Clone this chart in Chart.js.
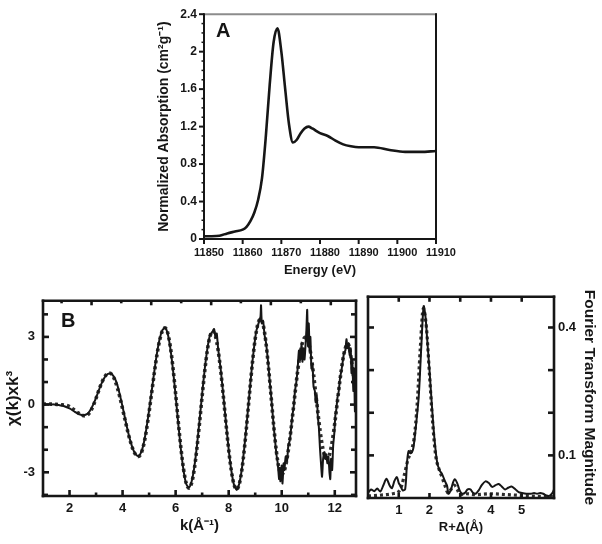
<!DOCTYPE html>
<html>
<head>
<meta charset="utf-8">
<script src="https://cdn.jsdelivr.net/npm/chart.js@4.4.1/dist/chart.umd.min.js"></script>
<style>
  html, body { margin: 0; padding: 0; background: #fff; }
  body { width: 602px; height: 544px; position: relative; overflow: hidden; }
  canvas { position: absolute; }
  .tag { position: absolute; font: bold 20px "Liberation Sans", Arial, sans-serif; line-height: 20px; color: #151515; }
</style>
</head>
<body>
<canvas id="chartA" width="310" height="290" style="left:150px;top:0px"></canvas>
<canvas id="chartB" width="362" height="259" style="left:0px;top:285px"></canvas>
<canvas id="chartFT" width="242" height="259" style="left:360px;top:285px"></canvas>
<div class="tag" style="left:216px;top:20px">A</div>
<div class="tag" style="left:61px;top:310px">B</div>

<script>
/* ── Panel A: XANES ── */
const aEnergy = [11850, 11852, 11854, 11856, 11858, 11860, 11861, 11862, 11863, 11864,
                 11865, 11866, 11867, 11868, 11869, 11870, 11871, 11872, 11873, 11874,
                 11875, 11876, 11877, 11878, 11880, 11882, 11884, 11886, 11888, 11890,
                 11894, 11898, 11902, 11906, 11910];
const aAbs    = [0.03, 0.03, 0.035, 0.06, 0.08, 0.10, 0.13, 0.19, 0.28, 0.42,
                 0.65, 1.1, 1.65, 2.1, 2.25, 2.0, 1.6, 1.22, 1.03, 1.06,
                 1.13, 1.18, 1.20, 1.18, 1.13, 1.10, 1.05, 1.01, 0.99, 0.98,
                 0.98, 0.95, 0.93, 0.93, 0.94];
const aXTicks      = [11850, 11860, 11870, 11880, 11890, 11900, 11910];
const aYTicks      = [0, 0.4, 0.8, 1.2, 1.6, 2, 2.4];
const aYMinorTicks = [0.1, 0.2, 0.3, 0.5, 0.6, 0.7, 0.9, 1.0, 1.1, 1.3, 1.4, 1.5, 1.7, 1.8, 1.9, 2.1, 2.2, 2.3];

/* ── Panel B: EXAFS k-space, data (solid) and fit (dotted) ── */
const bKFit = [1.0, 1.1, 1.2, 1.3, 1.4, 1.5, 1.6, 1.7, 1.8, 1.9,
               2.0, 2.1, 2.2, 2.3, 2.4, 2.5, 2.6, 2.7, 2.8, 2.9,
               3.0, 3.1, 3.2, 3.3, 3.4, 3.5, 3.6, 3.7, 3.8, 3.9,
               4.0, 4.1, 4.2, 4.3, 4.4, 4.5, 4.6, 4.7, 4.8, 4.9,
               5.0, 5.1, 5.2, 5.3, 5.4, 5.5, 5.6, 5.7, 5.8, 5.9,
               6.0, 6.1, 6.2, 6.3, 6.4, 6.5, 6.6, 6.7, 6.8, 6.9,
               7.0, 7.1, 7.2, 7.3, 7.4, 7.5, 7.6, 7.7, 7.8, 7.9,
               8.0, 8.1, 8.2, 8.3, 8.4, 8.5, 8.6, 8.7, 8.8, 8.9,
               9.0, 9.1, 9.2, 9.3, 9.4, 9.5, 9.6, 9.7, 9.8, 9.9,
               10.0, 10.1, 10.2, 10.3, 10.4, 10.5, 10.6, 10.7, 10.8, 10.9,
               11.0, 11.1, 11.2, 11.3, 11.4, 11.5, 11.6, 11.7, 11.8, 11.9,
               12.0, 12.1, 12.2, 12.3, 12.4, 12.5, 12.6, 12.7, 12.8];
const bChiFit = [0.03, 0.03, 0.03, 0.02, 0.02, 0.01, 0, -0.01, -0.02, -0.04,
                 -0.09, -0.17, -0.26, -0.35, -0.43, -0.48, -0.5, -0.44, -0.28, -0.03,
                 0.28, 0.62, 0.93, 1.18, 1.34, 1.4, 1.33, 1.11, 0.76, 0.32,
                 -0.19, -0.71, -1.22, -1.66, -2.01, -2.23, -2.3, -2.16, -1.76, -1.13,
                 -0.33, 0.55, 1.43, 2.23, 2.86, 3.26, 3.4, 3.19, 2.57, 1.63,
                 0.47, -0.77, -1.93, -2.87, -3.49, -3.7, -3.49, -2.89, -1.96, -0.83,
                 0.38, 1.51, 2.44, 3.04, 3.25, 3.04, 2.43, 1.5, 0.36, -0.86,
                 -2.0, -2.93, -3.54, -3.75, -3.52, -2.87, -1.86, -0.63, 0.68, 1.91,
                 2.92, 3.57, 3.8, 3.54, 2.79, 1.67, 0.35, -0.97, -2.09, -2.84,
                 -3.1, -2.92, -2.39, -1.58, -0.58, 0.48, 1.48, 2.29, 2.82, 3.0,
                 2.79, 2.21, 1.33, 0.3, -0.73, -1.61, -2.19, -2.4, -2.21, -1.66,
                 -0.82, 0.15, 1.12, 1.96, 2.51, 2.7, 2.2, 1.3, 0.5];

const bKData = [1.0, 1.1, 1.2, 1.3, 1.4, 1.5, 1.6, 1.7, 1.8, 1.9,
                2.0, 2.1, 2.2, 2.3, 2.4, 2.5, 2.6, 2.7, 2.8, 2.9,
                3.0, 3.1, 3.2, 3.3, 3.4, 3.5, 3.6, 3.7, 3.8, 3.9,
                4.0, 4.1, 4.2, 4.3, 4.4, 4.5, 4.6, 4.7, 4.8, 4.9,
                5.0, 5.1, 5.2, 5.3, 5.4, 5.5, 5.6, 5.7, 5.8, 5.9,
                6.0, 6.1, 6.2, 6.3, 6.4, 6.5, 6.6, 6.7, 6.8, 6.9,
                7.0, 7.1, 7.2, 7.3, 7.4, 7.45, 7.5, 7.55, 7.6, 7.7, 7.8, 7.9,
                8.0, 8.1, 8.2, 8.3, 8.4, 8.5, 8.6, 8.7, 8.8, 8.9,
                9.0, 9.05, 9.1, 9.15, 9.2, 9.22, 9.25, 9.3, 9.35, 9.4,
                9.45, 9.5, 9.55, 9.6, 9.65, 9.7, 9.75, 9.8, 9.85, 9.9,
                9.92, 9.95, 10.0, 10.03, 10.07, 10.1, 10.15, 10.2, 10.25, 10.3,
                10.35, 10.4, 10.45, 10.5, 10.55, 10.6, 10.65, 10.7, 10.75, 10.78,
                10.82, 10.86, 10.9, 10.93, 10.96, 10.99, 11.02, 11.05, 11.08, 11.12,
                11.16, 11.2, 11.25, 11.28, 11.32, 11.36, 11.4, 11.44, 11.48, 11.52,
                11.56, 11.6, 11.64, 11.68, 11.72, 11.76, 11.8, 11.83, 11.86, 11.9,
                11.94, 11.98, 12.02, 12.06, 12.1, 12.15, 12.2, 12.25, 12.3, 12.35,
                12.4, 12.44, 12.48, 12.52, 12.56, 12.6, 12.63, 12.66, 12.7, 12.73,
                12.76, 12.8];
const bChiData = [0.02, 0.02, 0.02, 0.01, 0.01, 0, -0.02, -0.04, -0.07, -0.12,
                  -0.17, -0.24, -0.32, -0.38, -0.44, -0.47, -0.45, -0.38, -0.22, 0.02,
                  0.3, 0.62, 0.92, 1.16, 1.32, 1.38, 1.34, 1.18, 0.88, 0.42,
                  -0.1, -0.65, -1.18, -1.64, -2.0, -2.22, -2.28, -2.12, -1.7, -1.05,
                  -0.25, 0.62, 1.5, 2.3, 2.92, 3.3, 3.4, 3.15, 2.5, 1.55,
                  0.4, -0.85, -2.0, -2.93, -3.52, -3.68, -3.42, -2.8, -1.86, -0.72,
                  0.48, 1.6, 2.5, 3.1, 3.25, 3.35, 3.0, 3.15, 2.5, 1.55, 0.4, -0.82,
                  -1.98, -2.92, -3.55, -3.78, -3.5, -2.82, -1.8, -0.58, 0.72, 1.95,
                  2.95, 3.3, 3.5, 3.7, 3.9, 4.4, 3.6, 3.7, 3.1, 2.8,
                  2.3, 1.7, 1.0, 0.4, -0.3, -1.0, -1.6, -2.2, -2.6, -3.3,
                  -2.8, -3.4, -2.7, -3.5, -2.6, -2.9, -2.3, -2.5, -1.8, -1.6,
                  -1.1, -0.5, -0.1, 0.6, 1.0, 1.6, 2.4, 2.0, 2.7, 1.9,
                  2.5, 2.0, 2.7, 3.3, 4.2, 2.6, 3.6, 2.4, 3.0, 1.6,
                  1.8, 0.8, 0.6, 0.1, 0.4, -0.5, -1.0, -1.9, -2.6, -3.2,
                  -2.4, -2.1, -2.4, -2.2, -2.6, -2.3, -3.0, -3.3, -2.4, -2.9,
                  -1.8, -1.3, -0.5, -0.2, 0.3, 0.6, 1.2, 1.5, 1.9, 2.3,
                  2.4, 2.9, 2.5, 2.7, 2.2, 2.5, 1.4, 2.0, 0.6, 1.6,
                  -0.3, 0.3];
const bXTicks      = [2, 4, 6, 8, 10, 12];
const bXMinorTicks = [3, 5, 7, 9, 11];
const bTopTicks      = [2.83, 5.08, 7.34, 9.59, 11.85];
const bTopMinorTicks = [1.7, 3.95, 6.21, 8.46, 10.72];
const bYTicks      = [-3, 0, 3];
const bYMinorTicks = [-4, -2, -1, 1, 2, 4];

/* ── Panel C: Fourier transform magnitude ── */
const ftR   = [0, 0.1, 0.2, 0.3, 0.4, 0.5, 0.6, 0.7, 0.78, 0.86,
               0.94, 1.0, 1.05, 1.13, 1.21, 1.27, 1.32, 1.38, 1.43, 1.48,
               1.56, 1.65, 1.73, 1.81, 1.87, 1.92, 2.0, 2.08, 2.16, 2.25,
               2.33, 2.41, 2.5, 2.57, 2.62, 2.7, 2.76, 2.82, 2.9, 2.98,
               3.06, 3.15, 3.24, 3.33, 3.42, 3.5, 3.6, 3.7, 3.82, 3.93,
               4.04, 4.15, 4.25, 4.35, 4.46, 4.56, 4.67, 4.8, 4.9, 5.0,
               5.15, 5.3, 5.4, 5.5, 5.6, 5.7, 5.8, 5.9, 6.0, 6.05];
const ftMag = [0.012, 0.02, 0.016, 0.022, 0.015, 0.03, 0.045, 0.03, 0.023, 0.04,
               0.049, 0.035, 0.029, 0.018, 0.021, 0.084, 0.11, 0.105, 0.107, 0.119,
               0.17, 0.238, 0.35, 0.45, 0.425, 0.377, 0.30, 0.215, 0.14, 0.083,
               0.065, 0.056, 0.04, 0.029, 0.01, 0.02, 0.035, 0.044, 0.035, 0.018,
               0.01, 0.012, 0.02, 0.02, 0.012, 0.01, 0.018, 0.03, 0.039, 0.035,
               0.026, 0.03, 0.033, 0.027, 0.02, 0.024, 0.027, 0.02, 0.014, 0.012,
               0.01, 0.01, 0.012, 0.01, 0.012, 0.01, 0.006, 0.005, 0.012, 0.02];
const ftFitR   = [0, 0.3, 0.6, 0.8, 1.0, 1.1, 1.2, 1.3, 1.4, 1.5,
                  1.6, 1.7, 1.8, 1.9, 2.0, 2.1, 2.2, 2.3, 2.4, 2.5,
                  2.6, 2.7, 2.8, 2.9, 3.0, 3.2, 3.5, 4.0, 4.5, 5.0,
                  5.5, 6.05];
const ftFitMag = [0.005, 0.006, 0.008, 0.01, 0.015, 0.03, 0.06, 0.09, 0.11, 0.14,
                  0.22, 0.35, 0.445, 0.40, 0.29, 0.18, 0.10, 0.07, 0.05, 0.03,
                  0.012, 0.02, 0.03, 0.02, 0.008, 0.01, 0.008, 0.01, 0.008, 0.006,
                  0.004, 0.003];
const ftXTicks      = [1, 2, 3, 4, 5];
const ftYTicks      = [0.1, 0.4];
const ftYMinorTicks = [0.2, 0.3];

/* ================================================================
   SHARED
   ================================================================ */
const INK = '#161616';
Chart.defaults.font.family = '"Liberation Sans", Arial, sans-serif';
Chart.defaults.font.weight = 'bold';
Chart.defaults.color = INK;

const pairs = (xs, ys) => xs.map((x, i) => ({ x, y: ys[i] }));

// frame box + hand-placed tick marks (inward / outward), per panel options
const framePlugin = {
  id: 'frame',
  afterDatasetsDraw(chart, args, o) {
    const { ctx, chartArea: a, scales } = chart;
    ctx.save();
    ctx.lineCap = 'square';
    ctx.lineWidth = o.width;
    const seg = (x0, y0, x1, y1, c) => {
      ctx.strokeStyle = c || INK;
      ctx.beginPath(); ctx.moveTo(x0, y0); ctx.lineTo(x1, y1); ctx.stroke();
    };
    seg(a.left, a.top, a.right, a.top, o.topColor);
    seg(a.right, a.top, a.right, a.bottom);
    seg(a.left, a.bottom, a.right, a.bottom);
    seg(a.left, a.top, a.left, a.bottom);

    ctx.lineCap = 'butt';
    (o.marks || []).forEach((m) => {
      const sc = scales[m.scale];
      const s = m.dir === 'in' ? 1 : -1;
      ctx.lineWidth = m.w || o.width;
      m.values.forEach((v) => {
        const p = sc.getPixelForValue(v);
        if (m.edge === 'bottom') seg(p, a.bottom, p, a.bottom - s * m.len);
        if (m.edge === 'top')    seg(p, a.top, p, a.top + s * m.len);
        if (m.edge === 'left')   seg(a.left, p, a.left + s * m.len, p);
        if (m.edge === 'right')  seg(a.right, p, a.right - s * m.len, p);
      });
    });
    ctx.restore();
  },
};

function scale({ min, max, ticks, fit, size, pad, title, titleSize, titlePad, position, labelOffset }) {
  return {
    type: 'linear',
    position,
    min, max,
    grid: { display: false, drawTicks: false },
    border: { display: false },
    afterBuildTicks: (s) => { s.ticks = ticks.map((v) => ({ value: v })); },
    afterFit: (s) => {
      if (s.isHorizontal()) s.height = fit; else s.width = fit;
    },
    ticks: {
      autoSkip: false, maxRotation: 0, padding: pad,
      labelOffset: labelOffset || 0,
      font: { size, weight: 'bold' },
      callback: (v) => String(v),
    },
    title: {
      display: true, text: title,
      font: { size: titleSize, weight: 'bold' },
      padding: titlePad,
    },
  };
}

const baseOptions = {
  responsive: false,
  animation: false,
  devicePixelRatio: 1,
  plugins: { legend: { display: false }, tooltip: { enabled: false } },
  elements: { point: { radius: 0 } },
};

/* ================================================================
   PANEL A
   ================================================================ */
new Chart(document.getElementById('chartA'), {
  type: 'line',
  data: {
    datasets: [{
      data: pairs(aEnergy, aAbs),
      borderColor: INK, borderWidth: 2.6,
      cubicInterpolationMode: 'monotone',
    }],
  },
  options: {
    ...baseOptions,
    layout: { padding: { left: 0, top: 9, right: 24, bottom: 0 } },
    scales: {
      x: scale({ min: 11850, max: 11910, ticks: aXTicks, fit: 51, size: 11, pad: 7,
                 labelOffset: 5, title: 'Energy (eV)', titleSize: 13,
                 titlePad: { top: 0, bottom: 12 }, position: 'bottom' }),
      y: scale({ min: 0, max: 2.4, ticks: aYTicks, fit: 54, size: 12, pad: 7,
                 title: 'Normalized Absorption (cm²g⁻¹)', titleSize: 14,
                 titlePad: { top: 6, bottom: 0 }, position: 'left' }),
    },
    plugins: {
      ...baseOptions.plugins,
      frame: {
        width: 2, topColor: '#8c8c8c',
        marks: [
          { scale: 'x', edge: 'bottom', values: aXTicks, len: 5, dir: 'out' },
          { scale: 'y', edge: 'left', values: aYTicks, len: 5, dir: 'out' },
          { scale: 'y', edge: 'left', values: aYMinorTicks, len: 2.5, dir: 'out', w: 1.5 },
        ],
      },
    },
  },
  plugins: [framePlugin],
});

/* ================================================================
   PANEL B
   ================================================================ */
new Chart(document.getElementById('chartB'), {
  type: 'line',
  data: {
    datasets: [
      {
        data: pairs(bKData, bChiData),
        borderColor: INK, borderWidth: 2,
        tension: 0.2,
      },
      {
        data: pairs(bKFit, bChiFit),
        borderColor: '#2e2e2e', borderWidth: 3.6,
        borderDash: [3, 3],
        cubicInterpolationMode: 'monotone',
      },
    ],
  },
  options: {
    ...baseOptions,
    layout: { padding: { left: 0, top: 11, right: 6, bottom: 0 } },
    scales: {
      x: scale({ min: 1, max: 12.8, ticks: bXTicks, fit: 48, size: 13, pad: 5,
                 title: 'k(Å⁻¹)', titleSize: 15,
                 titlePad: { top: 0, bottom: 9 }, position: 'bottom' }),
      y: scale({ min: -4.05, max: 4.6, ticks: bYTicks, fit: 43, size: 13, pad: 8,
                 title: 'χ(k)xk³', titleSize: 17,
                 titlePad: { top: 3, bottom: 0 }, position: 'left' }),
    },
    plugins: {
      ...baseOptions.plugins,
      frame: {
        width: 2.6,
        marks: [
          { scale: 'x', edge: 'bottom', values: bXTicks, len: 6, dir: 'in' },
          { scale: 'x', edge: 'bottom', values: bXMinorTicks, len: 3.5, dir: 'in' },
          { scale: 'x', edge: 'top', values: bTopTicks, len: 4.5, dir: 'in' },
          { scale: 'x', edge: 'top', values: bTopMinorTicks, len: 2.5, dir: 'in' },
          { scale: 'y', edge: 'left', values: bYTicks, len: 6, dir: 'in' },
          { scale: 'y', edge: 'left', values: bYMinorTicks, len: 5, dir: 'in' },
          { scale: 'y', edge: 'right', values: bYTicks, len: 6, dir: 'in' },
          { scale: 'y', edge: 'right', values: bYMinorTicks, len: 5, dir: 'in' },
        ],
      },
    },
  },
  plugins: [framePlugin],
});

/* ================================================================
   PANEL FT
   ================================================================ */
new Chart(document.getElementById('chartFT'), {
  type: 'line',
  data: {
    datasets: [
      {
        data: pairs(ftR, ftMag),
        borderColor: INK, borderWidth: 2,
        tension: 0.3,
      },
      {
        data: pairs(ftFitR, ftFitMag),
        borderColor: '#2e2e2e', borderWidth: 3.2,
        borderDash: [3, 3],
        cubicInterpolationMode: 'monotone',
      },
    ],
  },
  options: {
    ...baseOptions,
    layout: { padding: { left: 8, top: 11, right: 0, bottom: 0 } },
    scales: {
      x: scale({ min: 0, max: 6.05, ticks: ftXTicks, fit: 46, size: 13, pad: 5,
                 title: 'R+Δ(Å)', titleSize: 13,
                 titlePad: { top: 0, bottom: 9 }, position: 'bottom' }),
      y: scale({ min: 0, max: 0.472, ticks: ftYTicks, fit: 48, size: 13, pad: 4,
                 title: 'Fourier Transform Magnitude', titleSize: 15.5,
                 titlePad: { top: 3, bottom: 0 }, position: 'right' }),
    },
    plugins: {
      ...baseOptions.plugins,
      frame: {
        width: 2.6,
        marks: [
          { scale: 'x', edge: 'bottom', values: ftXTicks, len: 5, dir: 'in' },
          { scale: 'x', edge: 'top', values: ftXTicks, len: 5, dir: 'in' },
          { scale: 'y', edge: 'left', values: ftYTicks.concat(ftYMinorTicks), len: 6, dir: 'in' },
          { scale: 'y', edge: 'right', values: ftYTicks.concat(ftYMinorTicks), len: 6, dir: 'in' },
        ],
      },
    },
  },
  plugins: [framePlugin],
});
</script>
</body>
</html>
